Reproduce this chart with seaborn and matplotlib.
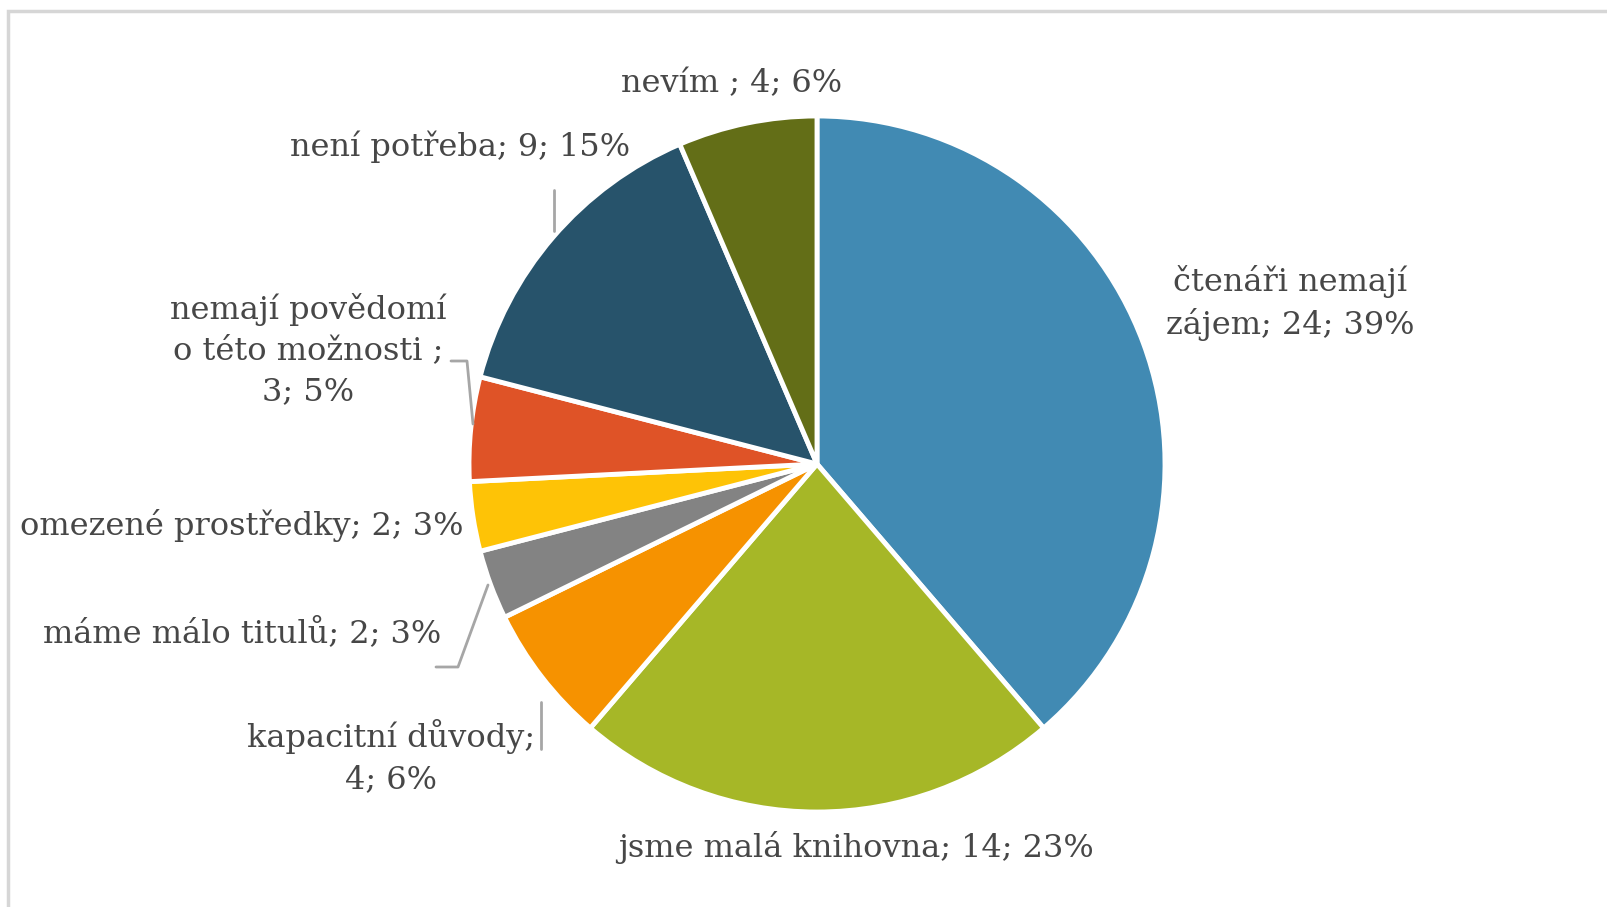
import matplotlib
matplotlib.use("Agg")
import matplotlib.pyplot as plt
import seaborn as sns
from matplotlib.patches import Rectangle

# data (start at 12 o'clock, clockwise)
categories = ["čtenáři nemají zájem", "jsme malá knihovna", "kapacitní důvody",
              "máme málo titulů", "omezené prostředky", "nemají povědomí o této možnosti ",
              "není potřeba", "nevím "]
counts = [24, 14, 4, 2, 2, 3, 9, 4]
colors = ["#418AB3", "#A6B727", "#F69200", "#838383", "#FEC306", "#DF5327",
          "#27536B", "#636E17"]

sns.set_theme(style="white")
plt.rcParams['font.family'] = ['DejaVu Serif']

W, H = 1608, 907
fig = plt.figure(figsize=(W / 100, H / 100), dpi=100)
ax = fig.add_axes([0, 0, 1, 1])

# light frame of the chart area (cropped on right / bottom)
fig.patches.append(Rectangle((8 / W, -0.1), 1.2, (H - 11) / H + 0.1, transform=fig.transFigure,
                             fill=False, edgecolor="#D6D6D6", linewidth=2.5))

cx, cy, r = 817, H - 464, 348
ax.pie(counts, colors=sns.color_palette(colors), startangle=90, counterclock=False,
       center=(cx, cy), radius=r, wedgeprops=dict(edgecolor="white", linewidth=3.5),
       frame=True)
ax.set_xlim(0, W)
ax.set_ylim(0, H)
ax.set_aspect("equal")
ax.axis("off")

total = sum(counts)
pct = [round(c / total * 100) for c in counts]
txt = dict(color="#474747", fontsize=23)

def lab(i):
    return f"{counts[i]}; {pct[i]}%"

ax.text(1290, H - 303, f"čtenáři nemají\nzájem; {lab(0)}", ha="center", va="center",
        linespacing=1.4, **txt)
ax.text(856, H - 847, f"{categories[1]}; {lab(1)}", ha="center", va="center", **txt)
ax.text(391, H - 757, f"{categories[2]};\n{lab(2)}", ha="center", va="center",
        linespacing=1.4, **txt)
ax.text(441, H - 633, f"{categories[3]}; {lab(3)}", ha="right", va="center", **txt)
ax.text(464, H - 526, f"{categories[4]}; {lab(4)}", ha="right", va="center", **txt)
ax.text(308, H - 350, f"nemají povědomí\no této možnosti ;\n{lab(5)}", ha="center",
        va="center", linespacing=1.4, **txt)
ax.text(630, H - 147, f"{categories[6]}; {lab(6)}", ha="right", va="center", **txt)
ax.text(732, H - 84, f"{categories[7]}; {lab(7)}", ha="center", va="center", **txt)

# leader lines
lc = dict(color="#A6A6A6", linewidth=2)
ax.plot([554, 554], [H - 190, H - 231], **lc)
ax.plot([451, 467, 473], [H - 361, H - 361, H - 424], **lc)
ax.plot([436, 458, 488], [H - 667, H - 667, H - 585], **lc)
ax.plot([541, 541], [H - 702, H - 749], **lc)

fig.savefig("out.png", dpi=100, facecolor="white")
